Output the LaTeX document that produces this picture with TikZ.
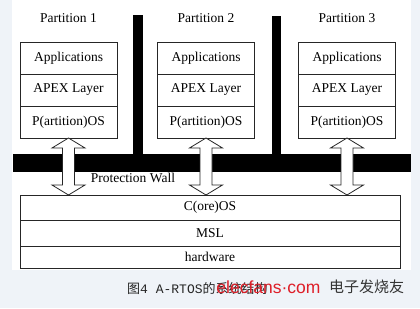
\documentclass[tikz,border=0pt]{standalone}
\usepackage{fontspec}
\setmainfont{Liberation Serif}
\newfontfamily\cjkfont{Noto Sans CJK SC}
\newfontfamily\capmono{Liberation Mono}
\newfontfamily\markfont{Liberation Sans}
\usetikzlibrary{positioning,calc}
\definecolor{pagebg}{RGB}{239,243,248}
\definecolor{markred}{RGB}{222,30,40}

\begin{document}
\begin{tikzpicture}[x=1pt, y=1pt,
    layer/.style={draw=black!85, line width=0.8pt, fill=white, minimum width=97pt, minimum height=32pt, inner sep=0pt, outer sep=0pt, font=\fontsize{13.5}{16}\selectfont},
    corelayer/.style={layer, minimum width=380pt},
    title/.style={font=\fontsize{13.5}{16}\selectfont},
    wall/.style={fill=black},
    link/.style={draw=black!85, line width=0.8pt, fill=white, line join=miter}
]
    % page and white panel
    \fill[pagebg] (0,0) rectangle (420,308);
    \fill[white] (12,38) rectangle (411,308);

    % protection wall (bar and two walls)
    \fill[wall] (13,136) rectangle (411,154);
    \fill[wall] (133,136) rectangle (143,293);
    \fill[wall] (272,136) rectangle (281,292);

    % Partitions
    \node[layer] at (68.5,250) (app1) {Applications};
    \node[layer, below=0pt of app1] (apex1) {APEX Layer};
    \node[layer, below=0pt of apex1] (pos1) {P(artition)OS};

    \node[layer] at (206,250) (app2) {Applications};
    \node[layer, below=0pt of app2] (apex2) {APEX Layer};
    \node[layer, below=0pt of apex2] (pos2) {P(artition)OS};

    \node[layer] at (347,250) (app3) {Applications};
    \node[layer, below=0pt of app3] (apex3) {APEX Layer};
    \node[layer, below=0pt of apex3] (pos3) {P(artition)OS};

    % Names
    \node[title] at ($(app1.north)+(0,24)$) (title1) {Partition 1};
    \node[title] at ($(app2.north)+(0,24)$) (title2) {Partition 2};
    \node[title] at ($(app3.north)+(0,24)$) (title3) {Partition 3};

    % core layers
    \node[corelayer, minimum height=25pt] at (210,100.5) (core) {C(ore)OS};
    \node[corelayer, minimum height=26pt, below=0pt of core] (msl) {MSL};
    \node[corelayer, minimum height=22pt, below=0pt of msl] (hw) {hardware};

    \node[title] at (133,130) (wallname) {Protection Wall};

    % hollow double arrows
    \foreach \i in {1,2,3} {
        \draw[link] (pos\i.south) -- ++(16.5,-10) -- ++(-10.5,0)
            -- ($(pos\i.south |- core.north)+(6,10)$) -- ++(10.5,0)
            -- (pos\i.south |- core.north) -- ++(-16.5,10) -- ++(10.5,0)
            -- ($(pos\i.south)+(-6,-10)$) -- ++(-10.5,0) -- cycle;
    }

    % caption and watermark
    \node[anchor=west, text=black!85, inner sep=0pt, font=\fontsize{13}{15}\selectfont] at (127,19.5) (caption)
        {\cjkfont 图\capmono 4 A-RTOS\cjkfont 的系统结构};
    \node[text=markred, inner sep=0pt, font=\markfont\fontsize{17.5}{20}\selectfont] at (268.5,21) (markurl) {elecfans·com};
    \node[text=black!80, inner sep=0pt, font=\cjkfont\fontsize{15}{16}\selectfont] at (366.5,21) (markcn) {电子发烧友};
\end{tikzpicture}
\end{document}
